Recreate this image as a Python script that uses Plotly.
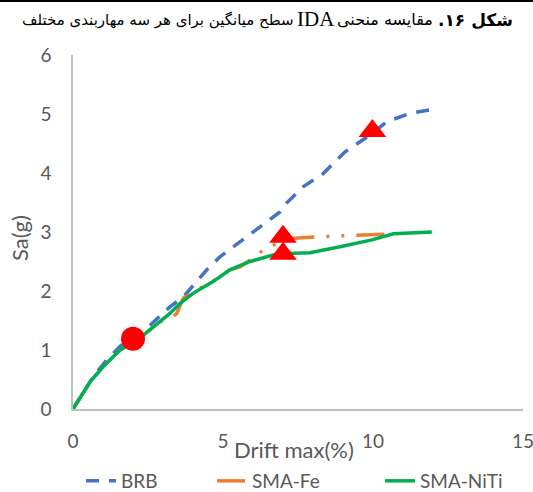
import plotly.graph_objects as go

# Data
brb_x = [0, 0.68, 1.12, 1.57, 2.57, 3.23, 3.68, 4.46, 4.9, 5.6, 6.34, 6.9, 7.12, 7.68, 8.34, 9.07, 9.57, 10.0, 10.46, 11.23, 12.0]
brb_y = [0, 0.55, 0.83, 1.06, 1.42, 1.73, 1.90, 2.36, 2.58, 2.85, 3.12, 3.34, 3.49, 3.77, 3.99, 4.36, 4.53, 4.68, 4.87, 5.01, 5.08]

fe_x = [0, 0.57, 1.01, 1.57, 2.34, 2.9, 3.3, 3.46, 3.68, 4.0, 4.67, 5.23, 5.57, 6.07, 6.4, 7.0, 7.23, 8.18, 9.0, 9.67, 10.5, 10.8]
fe_y = [0, 0.46, 0.72, 1.0, 1.25, 1.48, 1.55, 1.62, 1.88, 1.98, 2.17, 2.36, 2.41, 2.58, 2.72, 2.85, 2.89, 2.92, 2.94, 2.95, 2.97, 2.97]

niti_x = [0, 0.57, 1.01, 1.57, 2.34, 2.9, 3.23, 3.57, 4.0, 4.67, 5.23, 5.9, 6.67, 7.34, 7.9, 8.9, 10.0, 10.68, 11.96]
niti_y = [0, 0.46, 0.72, 1.0, 1.25, 1.48, 1.62, 1.79, 1.96, 2.16, 2.36, 2.5, 2.61, 2.64, 2.65, 2.75, 2.87, 2.97, 3.0]

circle_x = [2.0]
circle_y = [1.19]
tri_x = [7.0, 7.0, 9.98]
tri_y = [2.92, 2.63, 4.71]

x_ticks = [0, 5, 10, 15]
y_ticks = [0, 1, 2, 3, 4, 5, 6]

RLM = "\u200f"
title_parts = ["شکل ۱۶." + RLM, "مقایسه منحنی", "IDA", "سطح میانگین برای هر سه مهاربندی مختلف"]

font_fam = "Lato, 'Open Sans', sans-serif"
gray = "#595959"
arabic_font = "'DejaVu Sans', sans-serif"

# plot-area geometry (pixels)
L, R, T, B = 73, 10, 55, 83
W, H = 533 - L - R, 492 - T - B


def px_x(p):
    return (p - L) / W


def px_y(p):
    return (492 - B - p) / H


fig = go.Figure()
fig.add_trace(go.Scatter(x=brb_x, y=brb_y, mode="lines", name="BRB", legend="legend",
                         line=dict(color="#4472C4", width=3.5, dash="13px,10px")))
fig.add_trace(go.Scatter(x=fe_x, y=fe_y, mode="lines", name="SMA-Fe", legend="legend2",
                         line=dict(color="#ED7D31", width=3.5,
                                   dash="28px,12px,3px,12px,3px,12px")))
fig.add_trace(go.Scatter(x=niti_x, y=niti_y, mode="lines", name="SMA-NiTi", legend="legend3",
                         line=dict(color="#00B050", width=3.5)))
fig.add_trace(go.Scatter(x=circle_x, y=circle_y, mode="markers", showlegend=False,
                         marker=dict(symbol="circle", size=24, color="#FF0000")))
fig.add_trace(go.Scatter(x=tri_x, y=tri_y, mode="markers", showlegend=False,
                         marker=dict(symbol="triangle-up", size=24, color="#FF0000")))

leg_common = dict(orientation="h", yanchor="middle", xanchor="left",
                  font=dict(size=19, color=gray, family=font_fam),
                  bgcolor="rgba(0,0,0,0)", itemwidth=30)
legend_y = px_y(481)

fig.update_layout(
    width=533, height=492,
    margin=dict(l=L, r=R, t=T, b=B, autoexpand=False),
    paper_bgcolor="white", plot_bgcolor="white",
    font=dict(family=font_fam, color=gray, size=19),
    showlegend=True,
    legend=dict(x=px_x(126 - 45), y=legend_y, **leg_common),
    legend2=dict(x=px_x(257 - 45), y=legend_y, **leg_common),
    legend3=dict(x=px_x(425 - 45), y=legend_y, **leg_common),
    xaxis=dict(range=[0, 15], tickvals=x_ticks, showgrid=False, zeroline=False,
               showline=True, linecolor="#BFBFBF", linewidth=1.5, ticks="",
               automargin=False, ticklabeloverflow="allow",
               tickfont=dict(size=19, color=gray), ticklabelstandoff=14),
    yaxis=dict(range=[0, 6], tickvals=y_ticks, showgrid=False, zeroline=False,
               showline=True, linecolor="#BFBFBF", linewidth=1.5, ticks="",
               automargin=False, ticklabeloverflow="allow",
               tickfont=dict(size=19, color=gray), ticklabelstandoff=16),
    annotations=[
        dict(text="Drift max(%)", xref="paper", yref="paper", x=px_x(294),
             y=px_y(449), xanchor="center", yanchor="middle",
             showarrow=False, font=dict(size=22, color=gray)),
        dict(text="Sa(g)", xref="paper", yref="paper", x=px_x(20),
             y=px_y(238), xanchor="center", yanchor="middle", textangle=-90,
             showarrow=False, font=dict(size=22, color=gray)),
        dict(text="<b>" + title_parts[0] + "</b>", xref="paper", yref="paper", x=px_x(515),
             y=px_y(20), xanchor="right", yanchor="middle", showarrow=False,
             font=dict(size=17, color="black", family=arabic_font)),
        dict(text=title_parts[1], xref="paper", yref="paper", x=px_x(435),
             y=px_y(20), xanchor="right", yanchor="middle", showarrow=False,
             font=dict(size=16, color="black", family=arabic_font)),
        dict(text=title_parts[2], xref="paper", yref="paper", x=px_x(316),
             y=px_y(19), xanchor="center", yanchor="middle", showarrow=False,
             font=dict(size=21, color="black", family="'Liberation Serif', serif")),
        dict(text=title_parts[3], xref="paper", yref="paper", x=px_x(296),
             y=px_y(20), xanchor="right", yanchor="middle", showarrow=False,
             font=dict(size=15, color="black", family=arabic_font)),
    ],
    shapes=[dict(type="line", xref="paper", yref="paper", x0=px_x(0), x1=px_x(533),
                 y0=px_y(1), y1=px_y(1), line=dict(color="black", width=2))],
)

fig.write_html("out.html", config={"displayModeBar": False},
               post_script="document.body.style.margin='0px';")
